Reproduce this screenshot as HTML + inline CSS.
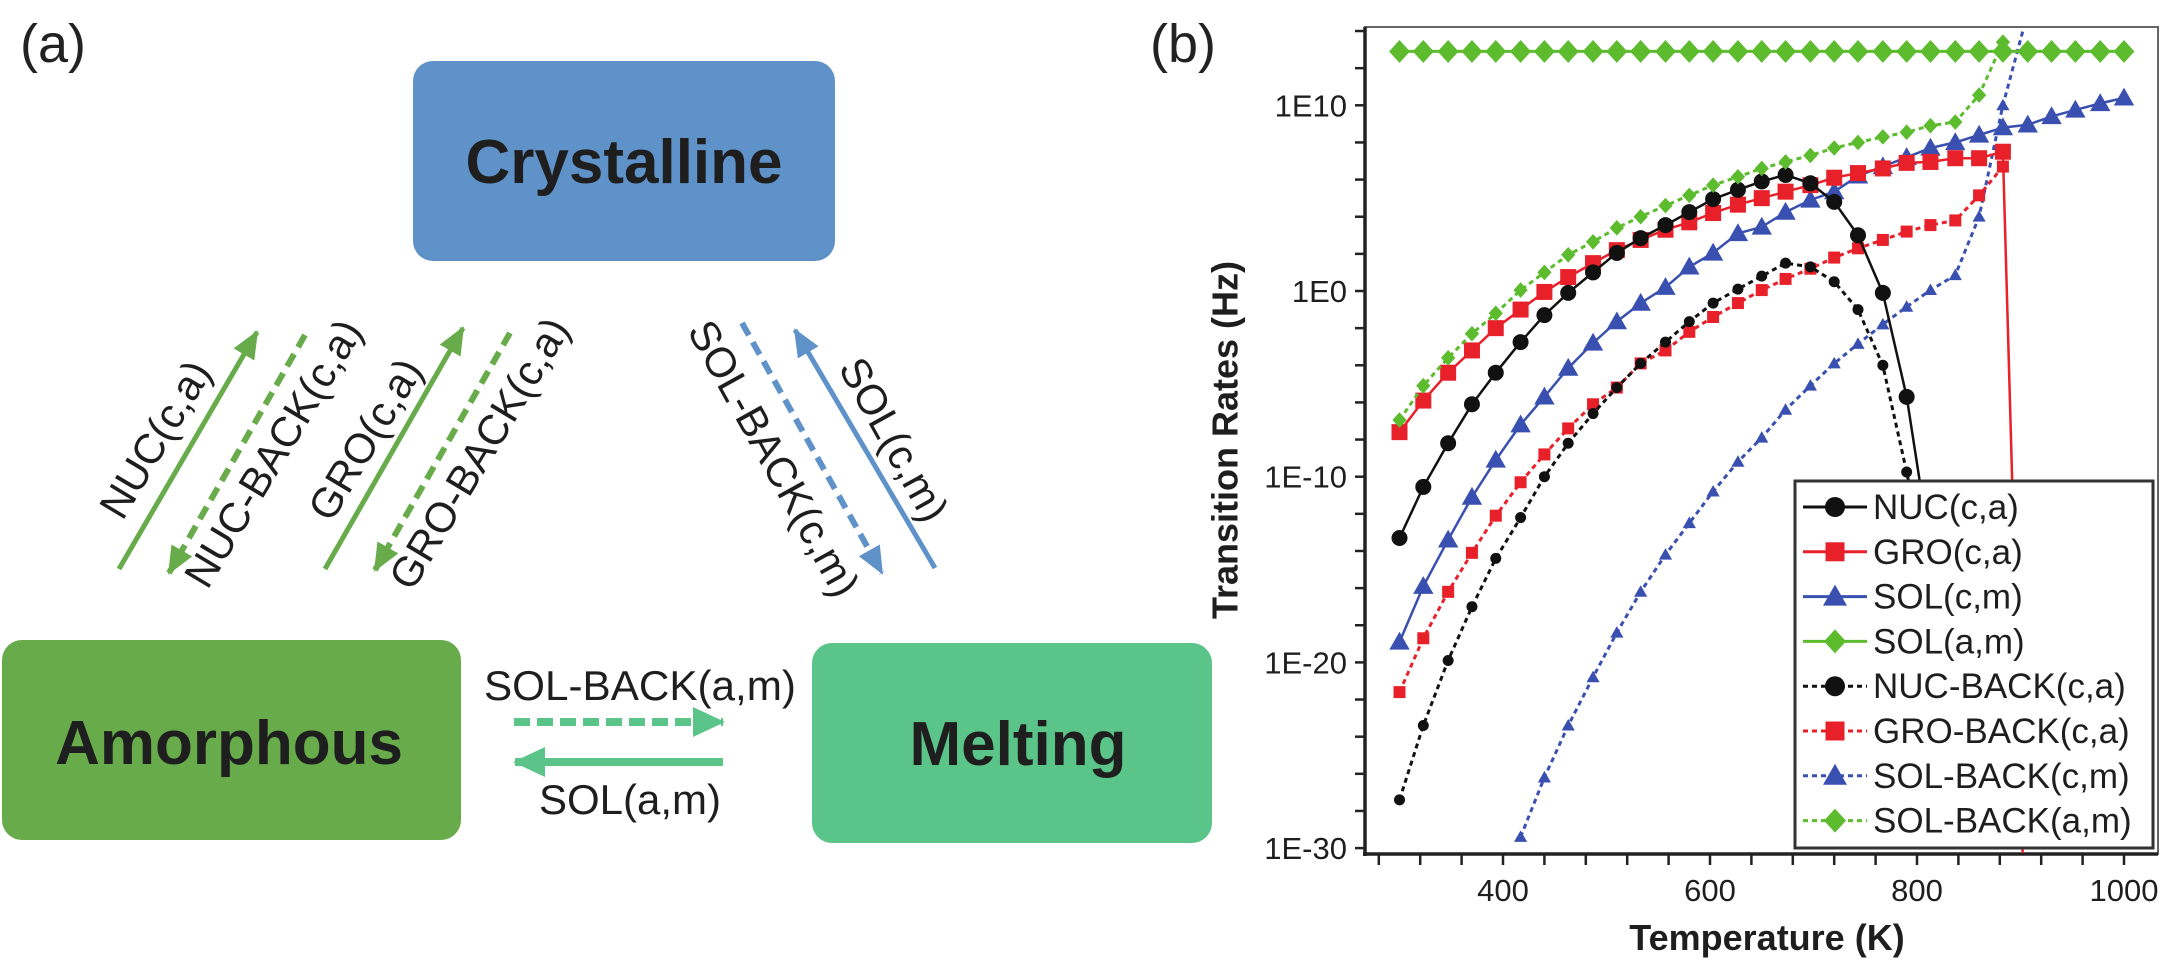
<!DOCTYPE html>
<html><head><meta charset="utf-8"><style>
html,body{margin:0;padding:0;background:#fff;overflow:hidden;width:2165px;height:962px;}
svg{display:block;font-family:"Liberation Sans",Arial,sans-serif;}
</style></head><body>
<svg id="fig" width="2165" height="962" viewBox="0 0 2165 962" xmlns="http://www.w3.org/2000/svg">
<defs>
<marker id="hg" markerUnits="userSpaceOnUse" markerWidth="30" markerHeight="24" refX="26" refY="12" orient="auto"><path d="M0,0 L28,12 L0,24 Z" fill="#67ab4b"/></marker>
<marker id="hb" markerUnits="userSpaceOnUse" markerWidth="30" markerHeight="24" refX="26" refY="12" orient="auto"><path d="M0,0 L28,12 L0,24 Z" fill="#5f92c9"/></marker>
<marker id="hm" markerUnits="userSpaceOnUse" markerWidth="34" markerHeight="30" refX="30" refY="15" orient="auto"><path d="M0,0 L32,15 L0,30 Z" fill="#5bc489"/></marker>
<clipPath id="plotclip"><rect x="1366" y="28" width="791" height="825"/></clipPath>
</defs>

<g>
<text x="20" y="62" font-size="54" fill="#222">(a)</text>
<rect x="413" y="61" width="422" height="200" rx="20" fill="#5f92c9"/>
<text x="624" y="183" font-size="62" font-weight="bold" text-anchor="middle" fill="#1e1e1e">Crystalline</text>
<rect x="2" y="640" width="459" height="200" rx="20" fill="#67ab4b"/>
<text x="229" y="764" font-size="62" font-weight="bold" text-anchor="middle" fill="#1e1e1e">Amorphous</text>
<rect x="812" y="643" width="400" height="200" rx="20" fill="#5bc489"/>
<text x="1018" y="765" font-size="62" font-weight="bold" text-anchor="middle" fill="#1e1e1e">Melting</text>

<line x1="119" y1="569" x2="257" y2="332" stroke="#67ab4b" stroke-width="5" marker-end="url(#hg)"/>
<line x1="305" y1="335" x2="169" y2="573" stroke="#67ab4b" stroke-width="6" stroke-dasharray="14 8" marker-end="url(#hg)"/>
<line x1="325" y1="569" x2="463" y2="328" stroke="#67ab4b" stroke-width="5" marker-end="url(#hg)"/>
<line x1="510" y1="333" x2="375" y2="570" stroke="#67ab4b" stroke-width="6" stroke-dasharray="14 8" marker-end="url(#hg)"/>
<line x1="742" y1="323" x2="882" y2="573" stroke="#5f92c9" stroke-width="6" stroke-dasharray="14 8" marker-end="url(#hb)"/>
<line x1="935" y1="568" x2="795" y2="330" stroke="#5f92c9" stroke-width="5" marker-end="url(#hb)"/>
<line x1="514" y1="722" x2="723" y2="722" stroke="#5bc489" stroke-width="8" stroke-dasharray="16 7" marker-end="url(#hm)"/>
<line x1="723" y1="762" x2="515" y2="762" stroke="#5bc489" stroke-width="8" marker-end="url(#hm)"/>

<g font-size="42" fill="#1e1e1e" text-anchor="middle" dominant-baseline="middle">
<text transform="translate(158,441) rotate(-59)">NUC(c,a)</text>
<text transform="translate(276,455) rotate(-59)">NUC-BACK(c,a)</text>
<text transform="translate(368,441) rotate(-59)">GRO(c,a)</text>
<text transform="translate(482,455) rotate(-59)">GRO-BACK(c,a)</text>
<text transform="translate(771,460) rotate(61)">SOL-BACK(c,m)</text>
<text transform="translate(891,441) rotate(61)">SOL(c,m)</text>
<text x="640" y="689" textLength="312" lengthAdjust="spacingAndGlyphs">SOL-BACK(a,m)</text>
<text x="630" y="803" textLength="182" lengthAdjust="spacingAndGlyphs">SOL(a,m)</text>
</g>
</g>

<g id="panelb">
<text x="1150" y="62" font-size="54" fill="#222">(b)</text>
<text transform="translate(1228,440) rotate(-90)" font-size="36" font-weight="bold" text-anchor="middle" dominant-baseline="middle" fill="#1e1e1e">Transition Rates (Hz)</text>
<text x="1767" y="950" font-size="36" font-weight="bold" text-anchor="middle" fill="#1e1e1e">Temperature (K)</text>
<g id="axes"></g>
<g id="series" clip-path="url(#plotclip)"></g>
<g id="legend"></g>
</g>
</svg>
<script>
const temps = [300,323,347,370,393,417,440,463,487,510,533,557,580,603,627,650,673,697,720,743,767,790,813,837,860,883,907,930,953,977,1000];
const nucCA = [-13.3,-10.55,-8.2,-6.1,-4.4,-2.75,-1.3,-0.1,1.0,2.05,2.85,3.55,4.25,4.95,5.45,5.9,6.25,5.8,4.8,3.0,-0.1,-5.7,-14];
const groCA = [-7.6,-5.9,-4.4,-3.2,-2.0,-1.0,-0.05,0.75,1.5,2.2,2.75,3.3,3.7,4.2,4.65,5.0,5.35,5.7,6.1,6.35,6.6,6.9,6.95,7.15,7.15,7.5,-40];
const solCM = [-18.9,-15.9,-13.4,-11.1,-9.1,-7.2,-5.7,-4.15,-2.8,-1.65,-0.65,0.2,1.3,2.05,3.1,3.45,4.25,4.9,5.35,6.2,6.7,7.2,7.7,8.0,8.4,8.8,8.95,9.4,9.75,10.1,10.4];
const solAM = [12.9,12.9,12.9,12.9,12.9,12.9,12.9,12.9,12.9,12.9,12.9,12.9,12.9,12.9,12.9,12.9,12.9,12.9,12.9,12.9,12.9,12.9,12.9,12.9,12.9,12.9,12.9,12.9,12.9,12.9,12.9];
const nucBackCA = [-27.4,-23.4,-19.9,-17.0,-14.4,-12.2,-10.0,-8.2,-6.6,-5.2,-3.9,-2.75,-1.65,-0.65,0.1,0.8,1.5,1.3,0.5,-1.0,-4.0,-9.75,-16];
const groBackCA = [-21.6,-18.7,-16.2,-14.1,-12.1,-10.3,-8.8,-7.4,-6.1,-5.2,-3.9,-3.2,-2.2,-1.4,-0.65,0.05,0.65,1.2,1.8,2.3,2.75,3.2,3.55,3.8,5.15,6.7];
const solBackCM = [null,null,null,null,null,-29.4,-26.2,-23.4,-20.8,-18.4,-16.2,-14.2,-12.5,-10.8,-9.2,-7.9,-6.4,-5.1,-3.9,-2.85,-1.8,-0.85,0.05,0.85,4.0,10.0,15];
const solBackAM = [-6.95,-5.1,-3.6,-2.3,-1.2,0.05,1.0,1.95,2.65,3.4,4.0,4.6,5.15,5.7,6.15,6.6,6.95,7.3,7.7,8.0,8.3,8.55,8.9,9.1,10.55,13.4];
const yTickExps = [10,0,-10,-20,-30];
const yTickLabels = ["1E10","1E0","1E-10","1E-20","1E-30"];
const xTickVals = [400,600,800,1000];
const xTickLabels = ["400","600","800","1000"];

const NS = "http://www.w3.org/2000/svg";
const X0=1365, X1=2158, Y0=27, Y1=854;
function xs(t){ return 1503 + (t-400)*1.035; }
function ys(e){ return 291 - e*18.57; }
function mk(tag, attrs, parent){
  const el=document.createElementNS(NS,tag);
  for(const k in attrs) el.setAttribute(k,attrs[k]);
  parent.appendChild(el); return el;
}
const axes=document.getElementById('axes');
let fr = mk('rect',{x:X0,y:Y0,width:X1-X0,height:Y1-Y0,fill:'none',stroke:'#666','stroke-width':2},axes);


let la = mk('line',{x1:X0,y1:Y0,x2:X0,y2:Y1+2,stroke:'#222','stroke-width':3.5},axes);


let ba = mk('line',{x1:X0-2,y1:Y1,x2:X1,y2:Y1,stroke:'#222','stroke-width':3.5},axes);


for(let e=-30;e<=14;e+=2){
  const y=ys(e); if(y<Y0||y>Y1) continue;
  const t=mk('line',{x1:X0-10,y1:y,x2:X0,y2:y,stroke:'#222','stroke-width':2.5},axes);
  
  
}
yTickExps.forEach((e,i)=>{
  const t=mk('text',{x:X0-18,y:ys(e)+11,'font-size':31,'text-anchor':'end',fill:'#1e1e1e'},axes);
  t.textContent=yTickLabels[i];
  
  
});
for(let v=280;v<=1000;v+=40){
  const x=xs(v);
  const t=mk('line',{x1:x,y1:Y1,x2:x,y2:Y1+11,stroke:'#222','stroke-width':2.5},axes);
  
  
}
xTickVals.forEach((v,i)=>{
  const t=mk('text',{x:xs(v),y:901,'font-size':31,'text-anchor':'middle',fill:'#1e1e1e'},axes);
  t.textContent=xTickLabels[i];
  
  
});

function marker(shape,cx,cy,s,color,parent){
  let el;
  if(shape==='circle') el=mk('circle',{cx:cx,cy:cy,r:s/2,fill:color},parent);
  else if(shape==='square') el=mk('rect',{x:cx-s/2,y:cy-s/2,width:s,height:s,fill:color},parent);
  else if(shape==='triangle') el=mk('path',{d:`M${cx},${cy-s*0.6} L${cx+s*0.6},${cy+s*0.45} L${cx-s*0.6},${cy+s*0.45} Z`,fill:color},parent);
  else el=mk('path',{d:`M${cx},${cy-s*0.6} L${cx+s*0.55},${cy} L${cx},${cy+s*0.6} L${cx-s*0.55},${cy} Z`,fill:color},parent);
  return el;
}
// clip a segment to the plot's vertical range (keeps path inside the frame)
function clipSeg(a,b){
  let [x1,y1]=a,[x2,y2]=b;
  function cut(yl){ const t=(yl-y1)/(y2-y1); return [x1+(x2-x1)*t, yl]; }
  if(y2>Y1 && y1<=Y1) return [a,cut(Y1)];
  if(y1>Y1 && y2<=Y1) return [cut(Y1),b];
  if(y2<Y0 && y1>=Y0) return [a,cut(Y0)];
  if(y1<Y0 && y2>=Y0) return [cut(Y0),b];
  if((y1>Y1&&y2>Y1)||(y1<Y0&&y2<Y0)) return null;
  return [a,b];
}
const seriesDefs = [
  {name:'sol-back-cm', vals:solBackCM, color:'#3a50b0', shape:'triangle', size:11, dash:'5 4', w:3},
  {name:'gro-back-ca', vals:groBackCA, color:'#e8202a', shape:'square', size:12, dash:'5 4', w:3},
  {name:'nuc-back-ca', vals:nucBackCA, color:'#111', shape:'circle', size:11, dash:'5 4', w:3},
  {name:'sol-cm', vals:solCM, color:'#3a50b0', shape:'triangle', size:17, dash:null, w:2.5},
  {name:'gro-ca', vals:groCA, color:'#e8202a', shape:'square', size:16, dash:null, w:2.5},
  {name:'nuc-ca', vals:nucCA, color:'#111', shape:'circle', size:16, dash:null, w:2.5},
  {name:'sol-back-am', vals:solBackAM, color:'#5dbb2e', shape:'diamond', size:13, dash:'5 4', w:3},
  {name:'sol-am', vals:solAM, color:'#5dbb2e', shape:'diamond', size:19, dash:null, w:3}
];
const sg=document.getElementById('series');
seriesDefs.forEach(sd=>{
  const g=mk('g',{},sg);
  
  
  const pts=[];
  sd.vals.forEach((v,i)=>{ if(v!==null && v!==undefined) pts.push([xs(temps[i]),ys(v)]); });
  const out=[];
  for(let i=0;i<pts.length-1;i++){
    const s=clipSeg(pts[i],pts[i+1]);
    if(!s) continue;
    if(out.length===0 || out[out.length-1][0]!==s[0][0] || out[out.length-1][1]!==s[0][1]) out.push(s[0]);
    out.push(s[1]);
  }
  const attrs={points:out.map(p=>p[0].toFixed(1)+','+p[1].toFixed(1)).join(' '),fill:'none',stroke:sd.color,'stroke-width':sd.w};
  if(sd.dash) attrs['stroke-dasharray']=sd.dash;
  const pl=mk('polyline',attrs,g);
  
  
  pts.forEach(p=>{
    if(p[1]<Y0-4 || p[1]>Y1) return;
    const m=marker(sd.shape,p[0],p[1],sd.size,sd.color,g);
    
    
  });
});

const lg=document.getElementById('legend');
const lb=mk('rect',{x:1795,y:481,width:358,height:367,fill:'#fff',stroke:'#333','stroke-width':3},lg);


const legendOrder=[
  ['NUC(c,a)','#111','circle',20,null],
  ['GRO(c,a)','#e8202a','square',19,null],
  ['SOL(c,m)','#3a50b0','triangle',20,null],
  ['SOL(a,m)','#5dbb2e','diamond',20,null],
  ['NUC-BACK(c,a)','#111','circle',20,'5 4'],
  ['GRO-BACK(c,a)','#e8202a','square',19,'5 4'],
  ['SOL-BACK(c,m)','#3a50b0','triangle',20,'5 4'],
  ['SOL-BACK(a,m)','#5dbb2e','diamond',20,'5 4']
];
legendOrder.forEach((e,i)=>{
  const y=507+i*44.8;
  const g=mk('g',{},lg);
  
  
  const a={x1:1803,y1:y,x2:1867,y2:y,stroke:e[1],'stroke-width':3};
  if(e[4]) a['stroke-dasharray']=e[4];
  mk('line',a,g);
  marker(e[2],1835,y,e[3],e[1],g);
  const t=mk('text',{x:1873,y:y+12,'font-size':35,fill:'#1e1e1e'},g);
  t.textContent=e[0];
});
</script>
</body></html>
